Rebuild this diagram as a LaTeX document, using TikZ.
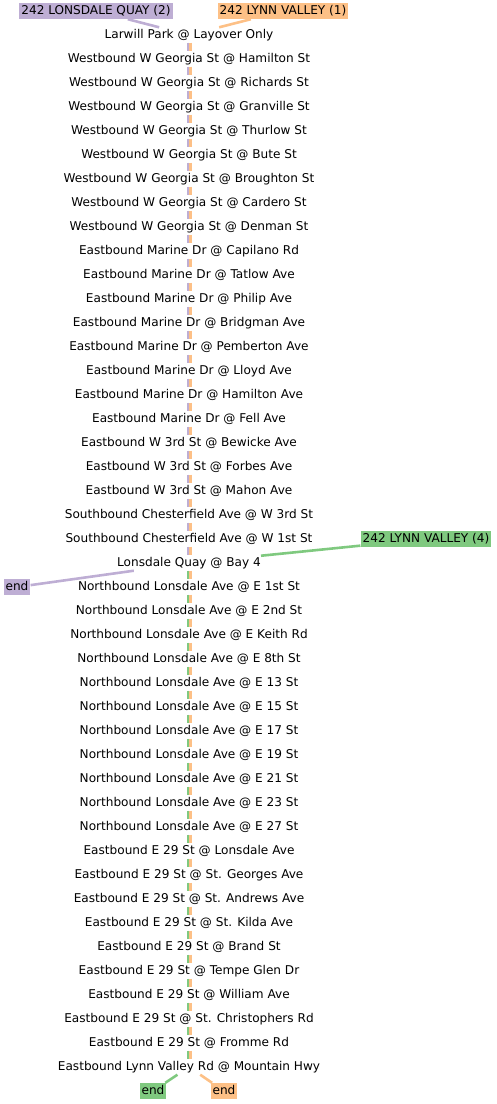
\documentclass[tikz,border=0pt]{standalone}
\usepackage{fontspec}
\setmainfont{DejaVu Sans}
\definecolor{acgreen}{HTML}{7FC97F}
\definecolor{acpurple}{HTML}{BEAED4}
\definecolor{acorange}{HTML}{FDC086}

\begin{document}
\begin{tikzpicture}[
  x=1pt,y=-1pt,
  every node/.style={font=\fontsize{12.1}{14}\selectfont},
  stp/.style={inner xsep=0pt,inner ysep=1.5pt,text height=9pt,text depth=3pt},
  rte/.style={fill=#1,inner xsep=2pt,inner ysep=2pt,text height=9pt,text depth=3pt},
  ln/.style={draw=#1,line width=2.6pt}
]
\useasboundingbox (0,0) rectangle (497,1104);

% route labels
\node[rte=acpurple] (lq2) at (96,11) {242 LONSDALE QUAY (2)};
\node[rte=acorange] (lv1) at (283,11) {242 LYNN VALLEY (1)};
\node[rte=acgreen] (lv4) at (426,539) {242 LYNN VALLEY (4)};

% stops
\node[stp] (s0) at (189,35) {Larwill Park @ Layover Only};
\node[stp] (s1) at (189,59) {Westbound W Georgia St @ Hamilton St};
\node[stp] (s2) at (189,83) {Westbound W Georgia St @ Richards St};
\node[stp] (s3) at (189,107) {Westbound W Georgia St @ Granville St};
\node[stp] (s4) at (189,131) {Westbound W Georgia St @ Thurlow St};
\node[stp] (s5) at (189,155) {Westbound W Georgia St @ Bute St};
\node[stp] (s6) at (189,179) {Westbound W Georgia St @ Broughton St};
\node[stp] (s7) at (189,203) {Westbound W Georgia St @ Cardero St};
\node[stp] (s8) at (189,227) {Westbound W Georgia St @ Denman St};
\node[stp] (s9) at (189,251) {Eastbound Marine Dr @ Capilano Rd};
\node[stp] (s10) at (189,275) {Eastbound Marine Dr @ Tatlow Ave};
\node[stp] (s11) at (189,299) {Eastbound Marine Dr @ Philip Ave};
\node[stp] (s12) at (189,323) {Eastbound Marine Dr @ Bridgman Ave};
\node[stp] (s13) at (189,347) {Eastbound Marine Dr @ Pemberton Ave};
\node[stp] (s14) at (189,371) {Eastbound Marine Dr @ Lloyd Ave};
\node[stp] (s15) at (189,395) {Eastbound Marine Dr @ Hamilton Ave};
\node[stp] (s16) at (189,419) {Eastbound Marine Dr @ Fell Ave};
\node[stp] (s17) at (189,443) {Eastbound W 3rd St @ Bewicke Ave};
\node[stp] (s18) at (189,467) {Eastbound W 3rd St @ Forbes Ave};
\node[stp] (s19) at (189,491) {Eastbound W 3rd St @ Mahon Ave};
\node[stp] (s20) at (189,515) {Southbound Chesterfield Ave @ W 3rd St};
\node[stp] (s21) at (189,539) {Southbound Chesterfield Ave @ W 1st St};
\node[stp] (s22) at (189,563) {Lonsdale Quay @ Bay 4};
\node[stp] (s23) at (189,587) {Northbound Lonsdale Ave @ E 1st St};
\node[stp] (s24) at (189,611) {Northbound Lonsdale Ave @ E 2nd St};
\node[stp] (s25) at (189,635) {Northbound Lonsdale Ave @ E Keith Rd};
\node[stp] (s26) at (189,659) {Northbound Lonsdale Ave @ E 8th St};
\node[stp] (s27) at (189,683) {Northbound Lonsdale Ave @ E 13 St};
\node[stp] (s28) at (189,707) {Northbound Lonsdale Ave @ E 15 St};
\node[stp] (s29) at (189,731) {Northbound Lonsdale Ave @ E 17 St};
\node[stp] (s30) at (189,755) {Northbound Lonsdale Ave @ E 19 St};
\node[stp] (s31) at (189,779) {Northbound Lonsdale Ave @ E 21 St};
\node[stp] (s32) at (189,803) {Northbound Lonsdale Ave @ E 23 St};
\node[stp] (s33) at (189,827) {Northbound Lonsdale Ave @ E 27 St};
\node[stp] (s34) at (189,851) {Eastbound E 29 St @ Lonsdale Ave};
\node[stp] (s35) at (189,875) {Eastbound E 29 St @ St. Georges Ave};
\node[stp] (s36) at (189,899) {Eastbound E 29 St @ St. Andrews Ave};
\node[stp] (s37) at (189,923) {Eastbound E 29 St @ St. Kilda Ave};
\node[stp] (s38) at (189,947) {Eastbound E 29 St @ Brand St};
\node[stp] (s39) at (189,971) {Eastbound E 29 St @ Tempe Glen Dr};
\node[stp] (s40) at (189,995) {Eastbound E 29 St @ William Ave};
\node[stp] (s41) at (189,1019) {Eastbound E 29 St @ St. Christophers Rd};
\node[stp] (s42) at (189,1043) {Eastbound E 29 St @ Fromme Rd};
\node[stp] (s43) at (189,1067) {Eastbound Lynn Valley Rd @ Mountain Hwy};

% ends
\node[rte=acpurple] (endp) at (17,587) {end};
\node[rte=acgreen] (endg) at (153,1091) {end};
\node[rte=acorange] (endo) at (224,1091) {end};

% route lines
\draw[ln=acpurple] (lq2) -- (s0);
\draw[ln=acorange] (lv1) -- (s0);
\draw[ln=acgreen] (lv4) -- (s22);
\foreach \i [evaluate=\i as \j using int(\i+1)] in {0,...,21}
  \draw[ln=acpurple] ([xshift=-1.1pt]s\i.south) -- ([xshift=-1.1pt]s\j.north);
\foreach \i [evaluate=\i as \j using int(\i+1)] in {22,...,42}
  \draw[ln=acgreen] ([xshift=-1.1pt]s\i.south) -- ([xshift=-1.1pt]s\j.north);
\foreach \i [evaluate=\i as \j using int(\i+1)] in {0,...,42}
  \draw[ln=acorange] ([xshift=1.5pt]s\i.south) -- ([xshift=1.5pt]s\j.north);
\draw[ln=acpurple] (s22) -- (endp);
\draw[ln=acgreen] (s43) -- (endg);
\draw[ln=acorange] (s43) -- (endo);

\end{tikzpicture}
\end{document}
